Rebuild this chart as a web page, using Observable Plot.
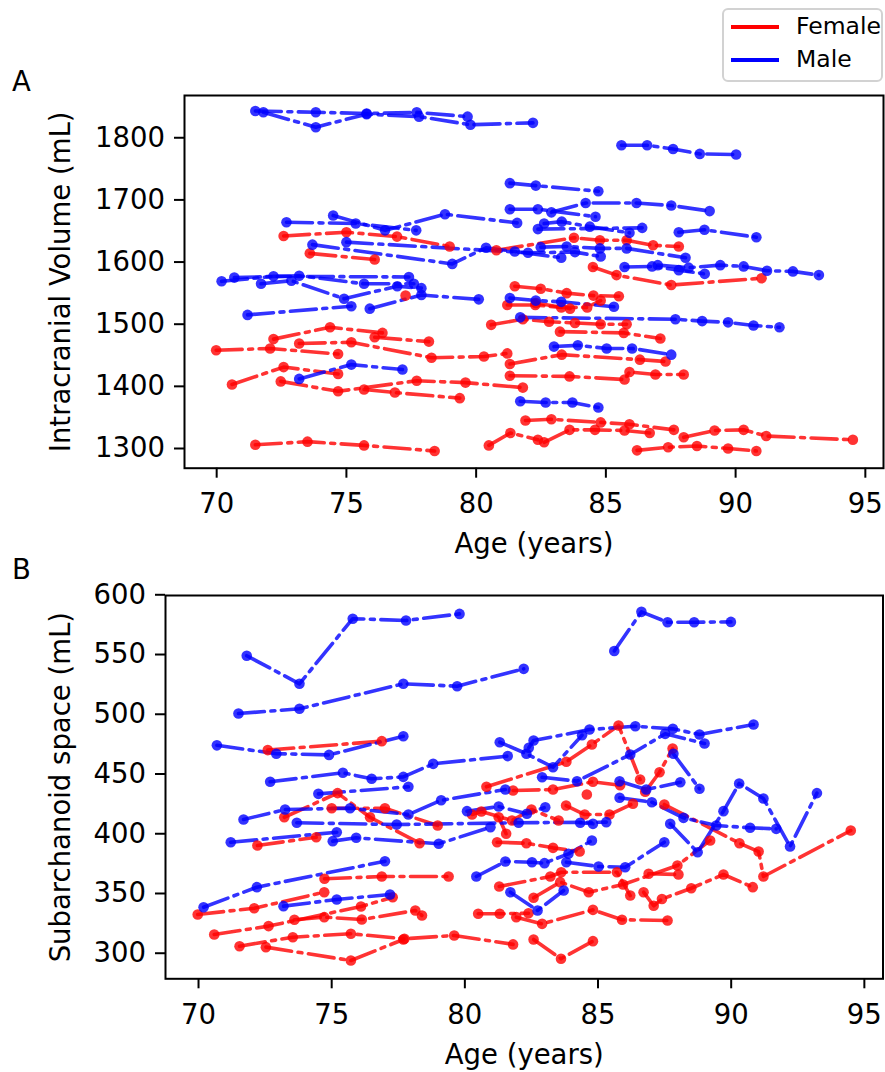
<!DOCTYPE html>
<html>
<head>
<meta charset="utf-8">
<script src="https://cdn.jsdelivr.net/npm/d3@7"></script>
<script src="https://cdn.jsdelivr.net/npm/@observablehq/plot@0.6"></script>
<style>
  html, body { margin: 0; padding: 0; background: #fff; }
  #wrap { position: relative; width: 885px; height: 1072px; overflow: hidden; font-family: "DejaVu Sans", sans-serif; color: #000; }
  .panel { position: absolute; left: 0; }
  .letter { position: absolute; left: 12px; font-size: 27.5px; line-height: 1; }
  #legend { position: absolute; left: 722px; top: 8px; width: 157px; height: 70px; border: 2px solid #d2d2d2; border-radius: 6px; background: rgba(255,255,255,0.8); }
  .sw { position: absolute; left: 7px; width: 48px; height: 4px; }
  .lt { position: absolute; left: 72px; font-size: 23.5px; line-height: 1; }
</style>
</head>
<body>
<div id="wrap">
  <div class="panel" id="pa" style="top:0px"></div>
  <div class="panel" id="pb" style="top:560px"></div>
  <div class="letter" style="top:68px">A</div>
  <div class="letter" style="top:556px">B</div>
  <div id="legend">
    <div class="sw" style="top:15px;background:#ff0000"></div>
    <div class="lt" style="top:5px">Female</div>
    <div class="sw" style="top:48px;background:#0000ff"></div>
    <div class="lt" style="top:38px">Male</div>
  </div>
</div>
<script>
// ---- tick values ----
const xTicks = [70, 75, 80, 85, 90, 95];
const icvTicks = [1300, 1400, 1500, 1600, 1700, 1800];
const subTicks = [300, 350, 400, 450, 500, 550, 600];

// ---- Panel A: intracranial volume (mL), one [age, value] list per subject ----
const icvFemale = [
  [[72.58,1642],[75.0,1648],[76.95,1641],[78.98,1625]],
  [[80.78,1619],[83.77,1639],[84.77,1635],[85.8,1635],[86.82,1627],[87.81,1625]],
  [[73.59,1614],[76.09,1604]],
  [[72.19,1476],[74.37,1495],[76.39,1486]],
  [[73.18,1469],[75.19,1471],[78.28,1446],[80.3,1448],[81.2,1453]],
  [[76.09,1479],[78.18,1472]],
  [[69.98,1458],[72.06,1461],[74.68,1452]],
  [[70.59,1403],[72.58,1431],[74.68,1420]],
  [[72.47,1408],[74.68,1392],[77.71,1409],[79.59,1406],[81.8,1398]],
  [[75.68,1395],[76.87,1390],[79.37,1381]],
  [[71.49,1306],[73.5,1311],[75.68,1305],[78.4,1296]],
  [[80.49,1305],[81.32,1325],[82.38,1314]],
  [[82.62,1310],[83.6,1330],[84.58,1330],[85.72,1329],[86.69,1325]],
  [[86.2,1297],[87.4,1302],[88.51,1304],[89.71,1300],[90.8,1296]],
  [[81.9,1345],[82.9,1347],[84.8,1342],[85.91,1339],[87.62,1330]],
  [[88.0,1318],[89.19,1329],[90.31,1330],[91.18,1320],[94.52,1314]],
  [[81.3,1417],[83.6,1416],[85.72,1411],[85.91,1423],[86.91,1419],[88.0,1419]],
  [[81.3,1436],[83.3,1451],[86.31,1443],[87.3,1440]],
  [[83.23,1488],[85.69,1486],[87.1,1477]],
  [[80.58,1499],[81.8,1508],[82.81,1504],[83.81,1502],[84.8,1500],[85.8,1500]],
  [[81.49,1561],[82.49,1557],[83.49,1550],[84.52,1546],[85.5,1545]],
  [[81.2,1531],[82.28,1531],[83.28,1527],[84.28,1527],[84.8,1538]],
  [[82.3,1534],[83.62,1525]],
  [[84.5,1592],[85.41,1579],[87.52,1563],[91.0,1574]],
  [[77.28,1546]]
];
const icvMale = [
  [[71.49,1843],[73.82,1841],[75.78,1839],[77.71,1841],[79.67,1834]],
  [[71.8,1841],[73.82,1817],[75.78,1838],[77.8,1834],[79.78,1821],[82.19,1824]],
  [[85.6,1788],[86.59,1788],[87.59,1782],[88.62,1774],[90.02,1773]],
  [[81.3,1727],[82.3,1723],[84.71,1714]],
  [[81.3,1685],[82.38,1685],[84.6,1673]],
  [[82.9,1680],[84.22,1695],[86.18,1695],[87.52,1691],[89.0,1682]],
  [[72.69,1664],[75.36,1662],[77.69,1651]],
  [[74.49,1675],[76.49,1651],[78.8,1677],[81.58,1663]],
  [[82.62,1662],[83.3,1665],[84.38,1657],[85.91,1647]],
  [[82.38,1653],[86.4,1655]],
  [[87.81,1648],[88.8,1652],[90.8,1640]],
  [[73.69,1628],[79.08,1597],[80.38,1623],[81.49,1617],[83.28,1607]],
  [[75.0,1632],[82.0,1615],[83.81,1616],[84.8,1609]],
  [[82.49,1624],[83.49,1625],[84.77,1622],[85.8,1622],[88.07,1607]],
  [[85.72,1592],[86.78,1593],[87.81,1587],[88.81,1581]],
  [[87.0,1595],[88.19,1591],[89.41,1595],[90.31,1593],[91.21,1586],[92.21,1585],[93.21,1579]],
  [[70.19,1569],[72.19,1577],[77.41,1576]],
  [[70.68,1575],[73.18,1578],[75.68,1565],[77.6,1565]],
  [[71.71,1565],[72.88,1570],[74.91,1541],[76.96,1561],[77.89,1558]],
  [[71.19,1515],[75.19,1529]],
  [[75.9,1525],[77.89,1547],[80.1,1540]],
  [[73.18,1412],[75.19,1435],[77.16,1427]],
  [[81.3,1542],[82.3,1538],[83.28,1536],[85.31,1528]],
  [[81.7,1511],[87.68,1508],[88.71,1505],[89.71,1503],[90.69,1498],[91.69,1495]],
  [[83.0,1464],[83.92,1466],[85.03,1461],[86.01,1461],[87.52,1451]],
  [[81.7,1376],[82.68,1374],[83.71,1374],[84.71,1366]]
];

// ---- Panel B: subarachnoid space (mL) ----
const subFemale = [
  [[72.6,470],[76.88,477.5]],
  [[80.81,439.3],[83.81,460.2],[84.77,474.7],[85.77,490.6],[86.58,445.4]],
  [[86.77,435.1],[87.31,451.5],[87.8,471.3]],
  [[73.22,413.8],[75.22,434],[76.44,413.8],[78.3,392.1]],
  [[75.0,421.4],[77.0,421.4],[78.98,406.9]],
  [[72.21,390.2],[74.42,397.1]],
  [[74.73,362.3],[76.88,364.2],[79.39,364.2]],
  [[69.97,332.4],[72.09,337.7],[74.72,351.1]],
  [[70.59,315.7],[72.63,322.7],[76.1,339.1],[77.29,346.9]],
  [[73.6,328],[74.72,330.2],[76.13,328.2],[78.14,335.8],[78.39,331.6]],
  [[71.54,305.9],[73.54,313.4],[75.72,316.3],[77.73,312.1],[79.6,314.9],[81.81,307.4]],
  [[72.53,305.1],[75.72,293.9],[77.69,311.5]],
  [[80.27,416.1],[80.62,418.6],[81.77,411.1],[82.5,420.3],[83.52,411.1]],
  [[81.27,413.8],[81.55,400]],
  [[83.8,423.6],[84.5,416.1],[85.43,416.1],[86.31,425.1]],
  [[84.58,432.8]],
  [[81.21,392.9],[82.31,392.1],[83.31,388.2],[84.31,385.1]],
  [[81.29,355.9],[83.21,364.2],[83.62,367.8],[85.71,367.8],[86.21,348.3]],
  [[86.9,366.5],[88.02,365.9]],
  [[82.58,346.4],[83.58,359.5],[84.65,351.1],[85.94,357.5],[87.98,373.4],[89.21,394.4]],
  [[80.5,333],[81.31,333],[82.39,333.5]],
  [[81.93,330.2],[82.9,324.6],[84.81,336.3],[85.9,328],[87.61,327.4]],
  [[82.58,311.5],[83.61,295.4],[84.81,310.1]],
  [[87.49,424.5],[90.31,392.1],[91.03,385.1],[91.21,364.2],[94.49,402.7]],
  [[86.71,351.1],[87.09,339.7],[87.4,345.4],[88.5,354.4],[89.71,365.9],[90.81,355.3]],
  [[81.81,436.2],[83.31,437],[84.81,443.5],[85.83,440.6]]
];
const subMale = [
  [[71.81,549],[73.79,525.5],[75.79,580],[77.79,578.5],[79.8,584]],
  [[71.5,500.6],[73.79,504.6],[77.69,525.5],[79.71,523.5],[82.21,538]],
  [[85.61,553],[86.63,585.7],[87.61,577],[88.61,577],[89.99,577.3]],
  [[70.69,474],[72.92,467],[74.9,466],[77.69,481.6]],
  [[72.69,443.5],[75.42,451],[76.5,446],[77.69,447.6],[78.81,458.5],[81.61,465]],
  [[74.5,433.4],[77.88,439.3]],
  [[71.69,411.9],[73.25,420.3],[75.69,421.4],[77.88,416.1],[79.11,428],[81.52,437]],
  [[73.69,409.2],[77.44,407.7],[82.02,409.2],[85.31,409.7]],
  [[71.21,392.9],[75.19,401.3]],
  [[75.04,393.8],[75.92,396.6],[79.02,391.6],[80.96,405.5]],
  [[70.19,338.5],[72.19,355.3],[77.0,377]],
  [[73.19,339.4],[75.19,345],[77.19,349.2]],
  [[81.31,476.6],[82.31,467],[83.31,455.7],[84.4,482.5]],
  [[82.4,472],[82.58,478],[84.68,487.2],[86.4,490],[87.81,487.8],[88.81,483.1],[90.84,491.4]],
  [[82.9,447.3],[84.21,444],[86.21,466.3],[87.52,483.6],[89.0,475.5]],
  [[85.81,444],[86.81,437],[88.09,443.1]],
  [[87.83,466.9],[88.81,437.6]],
  [[85.81,430.1],[87.02,426.4],[88.21,413.3],[89.44,406.9],[90.71,405],[91.69,404.1]],
  [[87.71,408.3],[88.74,384.5],[89.71,418.9],[90.3,442.1],[91.21,429.5],[92.21,389.3],[93.22,434]],
  [[83.81,376.2],[85.02,372.6],[86.02,372],[87.49,392.9]],
  [[80.43,364.2],[81.52,376.8],[82.52,376.2],[82.99,375.4],[83.89,383.2],[84.77,394.4]],
  [[81.71,351.1],[82.73,335.8],[83.71,352.5]],
  [[84.33,409.2],[84.81,408.3]],
  [[80.08,418.9],[81.27,422.8],[82.33,416.7],[83.02,422.2]]
];

function toRows(female, male) {
  const out = [];
  female.forEach((s, i) => s.forEach(([age, v]) => out.push({id: "F" + i, sex: "Female", age, v})));
  male.forEach((s, i) => s.forEach(([age, v]) => out.push({id: "M" + i, sex: "Male", age, v})));
  return out;
}

function panel({data, yDomain, yTicks, yLabel, height, mt, mb, ml, mr, yOff}) {
  return Plot.plot({
    width: 885, height,
    marginTop: mt, marginBottom: mb, marginLeft: ml, marginRight: mr,
    style: {fontFamily: "DejaVu Sans", fontSize: "27.5px", color: "#000", background: "transparent", overflow: "visible"},
    x: {domain: [68.76, 95.7]},
    y: {domain: yDomain},
    color: {domain: ["Female", "Male"], range: ["#ff0000", "#0000ff"]},
    marks: [
      Plot.line(data, {x: "age", y: "v", z: "id", stroke: "sex", strokeWidth: 3.6, strokeOpacity: 0.8,
        strokeDasharray: "26,6.5,4,6.5", strokeLinejoin: "round"}),
      Plot.dot(data, {x: "age", y: "v", fill: "sex", r: 5.3, fillOpacity: 0.8}),
      Plot.frame({stroke: "#000", strokeWidth: 2}),
      Plot.axisX({ticks: xTicks, tickSize: 10, tickPadding: 15.5, strokeWidth: 2, fontSize: 27.5,
        tickFormat: d => String(d), label: "Age (years)", labelAnchor: "center", labelOffset: 85, labelArrow: "none"}),
      Plot.axisY({ticks: yTicks, tickSize: 10, tickPadding: 9.5, strokeWidth: 2, fontSize: 27.5,
        tickFormat: d => String(d), label: yLabel, labelAnchor: "center", labelOffset: yOff, labelArrow: "none"})
    ]
  });
}

document.getElementById("pa").append(panel({
  data: toRows(icvFemale, icvMale), yDomain: [1268.3, 1868], yTicks: icvTicks,
  yLabel: "Intracranial Volume (mL)", height: 560, mt: 95, mb: 92.3, ml: 184, mr: 2, yOff: 134
}));
document.getElementById("pb").append(panel({
  data: toRows(subFemale, subMale), yDomain: [278.6, 599.4], yTicks: subTicks,
  yLabel: "Subarchanoid space (mL)", height: 512, mt: 35, mb: 93.7, ml: 165, mr: 2.5, yOff: 115
}));
</script>
</body>
</html>
